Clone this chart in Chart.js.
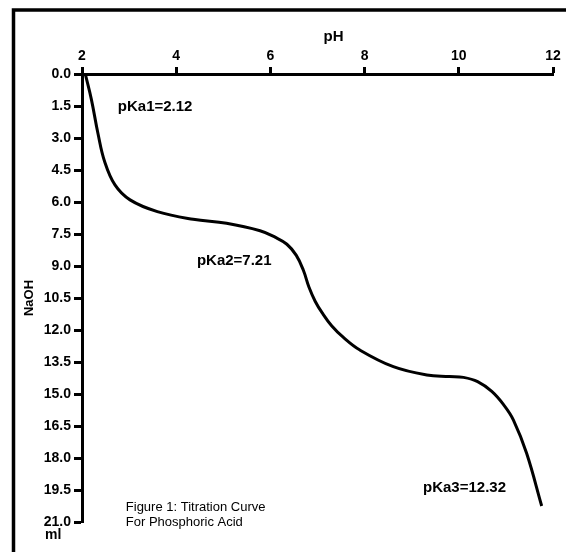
<!DOCTYPE html>
<html>
<head>
<meta charset="utf-8">
<script src="https://cdn.jsdelivr.net/npm/chart.js@4"></script>
<style>
  html, body { margin: 0; padding: 0; background: #fff; }
  canvas { display: block; }
</style>
</head>
<body>
<canvas id="titration" width="566" height="552"></canvas>
<script>
// curve: pH (x) vs ml NaOH added (y, downward)
const phValues = [2.07, 2.2, 2.34, 2.48, 2.7, 3.02, 3.6, 4.36, 5.07, 5.78, 6.1, 6.35, 6.55, 6.7, 6.82, 6.95, 7.1, 7.3, 7.55, 7.9, 8.61, 9.32, 9.8, 10.1, 10.4, 10.7, 10.95, 11.16, 11.44, 11.76];
const naohMl   = [0, 1.2, 2.8, 4.1, 5.2, 5.9, 6.45, 6.81, 7.0, 7.35, 7.65, 7.98, 8.5, 9.2, 10.0, 10.65, 11.2, 11.8, 12.35, 12.94, 13.72, 14.11, 14.18, 14.22, 14.42, 14.88, 15.5, 16.22, 17.78, 20.25];

const phTicks = [2, 4, 6, 8, 10, 12];
const mlTicks = [0, 1.5, 3, 4.5, 6, 7.5, 9, 10.5, 12, 13.5, 15, 16.5, 18, 19.5, 21];

const pkaLabels = ['pKa1=2.12', 'pKa2=7.21', 'pKa3=12.32'];
const captionLines = ['Figure 1: Titration Curve', 'For Phosphoric Acid'];

Chart.defaults.font.family = "'Liberation Sans', Arial, Helvetica, sans-serif";
Chart.defaults.color = '#000';

const points = phValues.map((ph, i) => ({ x: ph, y: naohMl[i] }));

// text notes, placed in data units so they follow the scales
const notes = [
  { text: pkaLabels[0], x: 2.76, y: 1.55, font: 'bold 15px', align: 'left' },
  { text: pkaLabels[1], x: 4.44, y: 8.77, font: 'bold 15px', align: 'left' },
  { text: pkaLabels[2], x: 9.24, y: 19.41, font: 'bold 15px', align: 'left' },
  { text: captionLines[0], x: 2.93, y: 20.3, font: '13px', align: 'left' },
  { text: captionLines[1], x: 2.93, y: 21.0, font: '13px', align: 'left' }
];

const figureFrame = {
  id: 'figureFrame',
  beforeDraw(chart) {
    const ctx = chart.ctx;
    ctx.save();
    ctx.strokeStyle = '#000';
    ctx.lineWidth = 3.5;
    ctx.beginPath();
    ctx.moveTo(13.5, chart.height + 5);
    ctx.lineTo(13.5, 10);
    ctx.lineTo(chart.width + 5, 10);
    ctx.stroke();
    ctx.restore();
  },
  afterDraw(chart) {
    const ctx = chart.ctx;
    const xs = chart.scales.x, ys = chart.scales.y;
    const fam = Chart.defaults.font.family;
    ctx.save();
    ctx.fillStyle = '#000';
    ctx.textBaseline = 'middle';
    notes.forEach(n => {
      ctx.font = n.font + ' ' + fam;
      ctx.textAlign = n.align;
      ctx.fillText(n.text, xs.getPixelForValue(n.x), ys.getPixelForValue(n.y));
    });
    // axis titles
    ctx.font = 'bold 15px ' + fam;
    ctx.textAlign = 'center';
    ctx.fillText('pH', xs.getPixelForValue(7.34), 37);
    ctx.font = 'bold 14px ' + fam;
    ctx.textAlign = 'left';
    ctx.fillText('ml', 45, ys.bottom + 13);
    ctx.restore();
  }
};

new Chart(document.getElementById('titration'), {
  type: 'scatter',
  data: {
    datasets: [{
      label: 'Titration',
      data: points,
      showLine: true,
      borderColor: '#000',
      borderWidth: 3,
      pointRadius: 0,
      tension: 0.4,
      fill: false
    }]
  },
  options: {
    responsive: false,
    animation: false,
    layout: { padding: { left: 0, right: 13, top: 0, bottom: 30 } },
    plugins: {
      legend: { display: false },
      tooltip: { enabled: false }
    },
    scales: {
      x: {
        type: 'linear',
        position: 'top',
        min: 2,
        max: 12,
        afterBuildTicks: s => { s.ticks = phTicks.map(v => ({ value: v })); },
        afterFit: s => { s.height = 74; },
        ticks: { font: { size: 14, weight: 'bold' }, padding: 2, color: '#000' },
        grid: { drawOnChartArea: false, drawTicks: true, tickLength: 7, tickWidth: 3, tickColor: '#000', color: '#000' },
        border: { display: true, color: '#000', width: 3 }
      },
      y: {
        type: 'linear',
        reverse: true,
        min: 0,
        max: 21,
        afterBuildTicks: s => { s.ticks = mlTicks.map(v => ({ value: v })); },
        afterFit: s => { s.width = 82; },
        ticks: {
          font: { size: 14, weight: 'bold' },
          padding: 3,
          color: '#000',
          callback: v => Number(v).toFixed(1)
        },
        title: {
          display: true,
          text: 'NaOH',
          font: { size: 13, weight: 'bold' },
          color: '#000',
          padding: { top: 22, bottom: 0 }
        },
        grid: { drawOnChartArea: false, drawTicks: true, tickLength: 8, tickWidth: 3, tickColor: '#000', color: '#000' },
        border: { display: true, color: '#000', width: 3 }
      }
    }
  },
  plugins: [figureFrame]
});
</script>
</body>
</html>
